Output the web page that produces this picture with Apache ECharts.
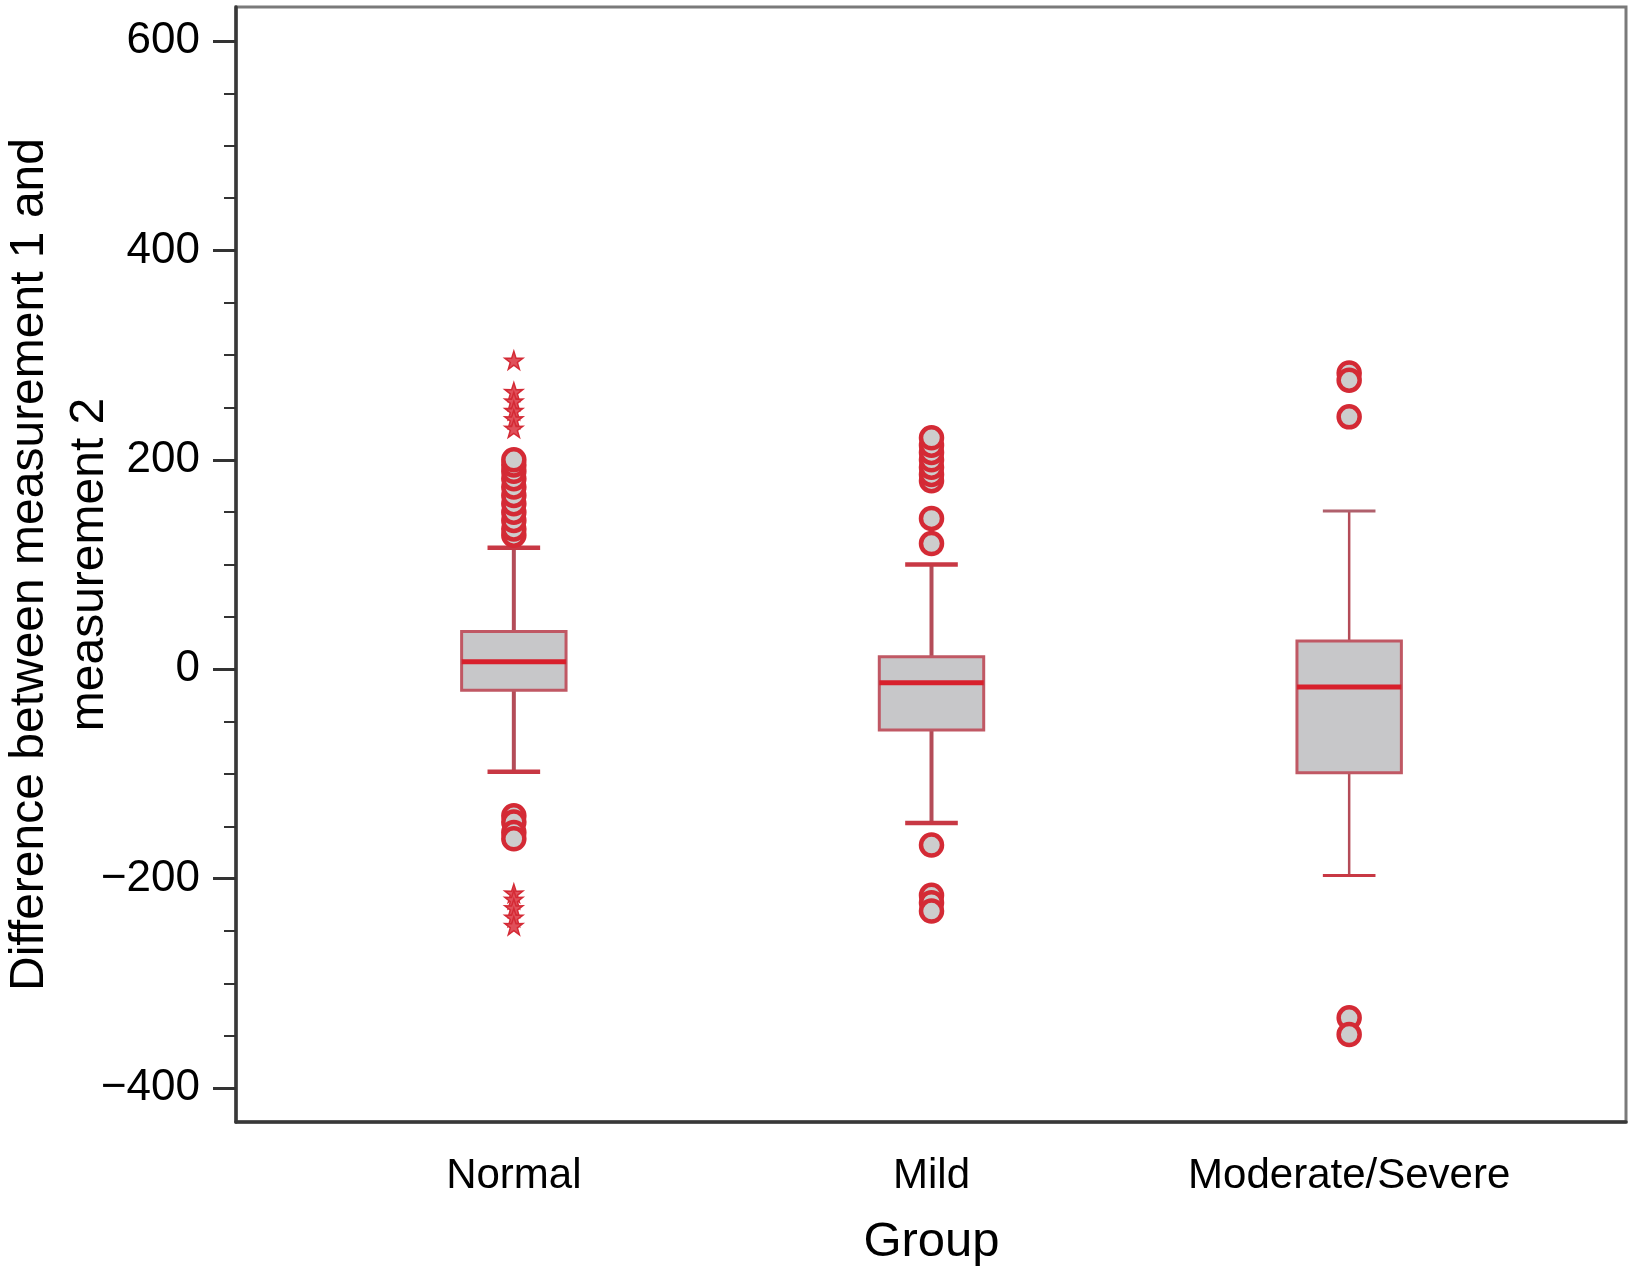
<!DOCTYPE html>
<html>
<head>
<meta charset="utf-8">
<script src="https://cdn.jsdelivr.net/npm/echarts@6/dist/echarts.min.js"></script>
<style>
html,body{margin:0;padding:0;background:#fff;}
#chart{width:1632px;height:1269px;}
</style>
</head>
<body>
<div id="chart"></div>
<script>
// ---- data ----
const categories = ['Normal', 'Mild', 'Moderate/Severe'];
const whiskerLow  = [-98, -147, -197];
const quartile1   = [-20, -58, -99];
const medians     = [7, -13, -17];
const quartile3   = [36, 12, 27];
const whiskerHigh = [116, 100, 151];

const normalCircles   = [128, 134, 142, 150, 158, 166, 174, 182, 189, 195, 200, -140, -146, -156, -162];
const normalStars     = [295, 265, 256, 247, 239, 230, -214, -220, -228, -237, -245];
const mildCircles     = [120, 144, 180, 186, 193, 200, 207, 214, 221, -168, -216, -223, -231];
const moderateCircles = [283, 276, 241, -333, -349];

const yTicks = { min: -400, max: 600, interval: 200 };

// ---- styles ----
const FONT = "'Liberation Sans', Arial, Helvetica, sans-serif";
const stemWidths = [4, 4, 2.5];
const capWidths = [4.5, 4.5, 3];
const RED = '#d42a35';
const STEM = '#b44c58';
const STAR = 'path://M50,0 L61.8,35.3 L97.6,34.5 L68.8,56 L79.4,90.5 L50,70 L20.6,90.5 L31.2,56 L2.4,34.5 L38.2,35.3 Z';

const boxData = categories.map((c, i) => [i, whiskerLow[i], quartile1[i], medians[i], quartile3[i], whiskerHigh[i]]);
const pts = (cat, arr) => arr.map(v => [cat, v]);

const chart = echarts.init(document.getElementById('chart'));
chart.setOption({
  animation: false,
  backgroundColor: '#ffffff',
  grid: [
    { left: 305, right: 74, top: 41, bottom: 181, show: false, containLabel: false, outerBoundsMode: 'none' },
    { left: 236, right: 6, top: 7, bottom: 147, show: true, borderColor: '#7a7a7a', borderWidth: 3, backgroundColor: 'transparent', containLabel: false, outerBoundsMode: 'none' }
  ],
  xAxis: [
    {
      type: 'category', gridIndex: 0, data: categories, offset: 34,
      axisLine: { show: false },
      axisTick: { show: true, alignWithLabel: true, interval: 0, length: 18, lineStyle: { color: '#444', width: 3 } },
      axisLabel: { fontFamily: FONT, fontSize: 42, color: '#000', margin: 33, interval: 0, hideOverlap: false },
      name: 'Group', nameLocation: 'middle', nameGap: 96, nameMoveOverlap: false,
      nameTextStyle: { fontFamily: FONT, fontSize: 49, color: '#000' },
      splitLine: { show: false }
    },
    {
      type: 'value', gridIndex: 1, min: 0, max: 1,
      axisLine: { show: true, lineStyle: { color: '#383838', width: 3.5 } },
      axisTick: { show: false }, axisLabel: { show: false }, splitLine: { show: false }
    }
  ],
  yAxis: [
    {
      type: 'value', gridIndex: 0, min: yTicks.min, max: yTicks.max, interval: yTicks.interval, offset: 69,
      axisLine: { show: false },
      axisTick: { show: true, length: 23, lineStyle: { color: '#333', width: 3 } },
      minorTick: { show: true, splitNumber: 4, length: 12, lineStyle: { color: '#333', width: 2 } },
      axisLabel: {
        fontFamily: FONT, fontSize: 44, color: '#000', margin: 36,
        formatter: v => String(v).replace('-', '\u2212')
      },
      splitLine: { show: false }, minorSplitLine: { show: false },
      name: 'Difference between measurement 1 and\nmeasurement 2',
      nameLocation: 'middle', nameGap: 116, nameMoveOverlap: false,
      nameTextStyle: { fontFamily: FONT, fontSize: 48, color: '#000', lineHeight: 60, align: 'center' }
    },
    {
      type: 'value', gridIndex: 1, min: 0, max: 1,
      axisLine: { show: true, lineStyle: { color: '#383838', width: 3.5 } },
      axisTick: { show: false }, axisLabel: { show: false }, splitLine: { show: false }
    }
  ],
  series: [
    {
      type: 'custom', xAxisIndex: 0, yAxisIndex: 0, data: boxData,
      encode: { x: 0, y: [1, 2, 3, 4, 5] },
      renderItem: function (params, api) {
        const i = api.value(0);
        const pLow = api.coord([i, api.value(1)]);
        const pQ1 = api.coord([i, api.value(2)]);
        const pMed = api.coord([i, api.value(3)]);
        const pQ3 = api.coord([i, api.value(4)]);
        const pHigh = api.coord([i, api.value(5)]);
        const band = api.size([1, 0])[0];
        const bw = band * 0.25, cw = band * 0.126;
        const cx = pMed[0];
        const sw = stemWidths[i], capw = capWidths[i];
        return {
          type: 'group',
          children: [
            { type: 'line', shape: { x1: cx, y1: pQ3[1], x2: cx, y2: pHigh[1] }, style: { stroke: STEM, lineWidth: sw } },
            { type: 'line', shape: { x1: cx, y1: pQ1[1], x2: cx, y2: pLow[1] }, style: { stroke: STEM, lineWidth: sw } },
            { type: 'line', shape: { x1: cx - cw / 2, y1: pHigh[1], x2: cx + cw / 2, y2: pHigh[1] }, style: { stroke: i === 2 ? '#b0606c' : '#c83844', lineWidth: capw } },
            { type: 'line', shape: { x1: cx - cw / 2, y1: pLow[1], x2: cx + cw / 2, y2: pLow[1] }, style: { stroke: '#c83844', lineWidth: capw } },
            { type: 'rect', shape: { x: cx - bw / 2, y: pQ3[1], width: bw, height: pQ1[1] - pQ3[1] }, style: { fill: '#c7c7c9', stroke: '#c05864', lineWidth: 3 } },
            { type: 'line', shape: { x1: cx - bw / 2, y1: pMed[1], x2: cx + bw / 2, y2: pMed[1] }, style: { stroke: '#d8202c', lineWidth: 5 } }
          ]
        };
      },
      z: 2
    },
    {
      type: 'scatter', xAxisIndex: 0, yAxisIndex: 0,
      data: pts('Normal', normalCircles).concat(pts('Mild', mildCircles), pts('Moderate/Severe', moderateCircles)),
      symbol: 'circle', symbolSize: 21,
      itemStyle: { color: '#cdcdcd', borderColor: RED, borderWidth: 4.5, opacity: 1 },
      z: 3
    },
    {
      type: 'scatter', xAxisIndex: 0, yAxisIndex: 0,
      data: pts('Normal', normalStars),
      symbol: STAR, symbolSize: 18,
      itemStyle: { color: '#e0505a', borderColor: RED, borderWidth: 1.5, opacity: 1 },
      z: 3
    }
  ]
});
</script>
</body>
</html>
